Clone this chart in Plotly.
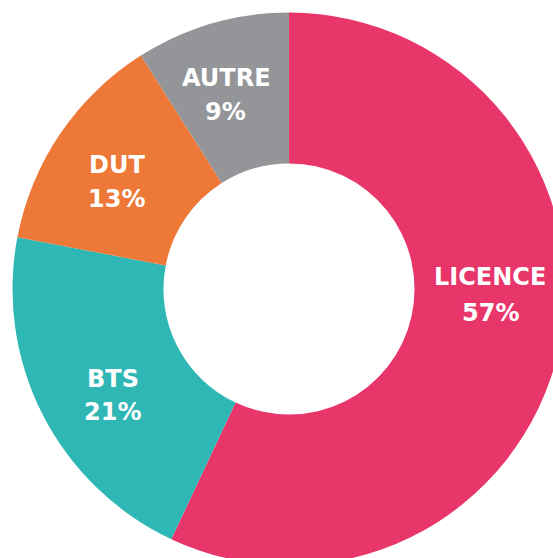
import plotly.graph_objects as go

# ---- data ----
categories = ["LICENCE", "BTS", "DUT", "AUTRE"]
shares = [57, 21, 13, 9]
pct_labels = ["57%", "21%", "13%", "9%"]

# ---- style ----
colors = ["#E8356A", "#2FB7B5", "#EE7837", "#939598"]
W, H = 577, 577
CX, CY, R = 289.0, 289.0, 276.5          # pie centre / radius in pixels
HOLE = 0.454

# label centres (pixels from top-left): name line, percent line
name_pos = [(490, 277), (113, 379), (117, 165), (226, 78)]
pct_pos = [(490, 313), (112, 412), (116.5, 199), (225.5, 112)]

fig = go.Figure(
    go.Pie(
        labels=categories,
        values=shares,
        sort=False,
        direction="clockwise",
        rotation=0,
        hole=HOLE,
        marker=dict(colors=colors, line=dict(width=0)),
        textinfo="none",
        hoverinfo="label+percent",
        showlegend=False,
        domain=dict(
            x=[(CX - R) / W, (CX + R) / W],
            y=[(H - CY - R) / H, (H - CY + R) / H],
        ),
    )
)

font = dict(family="DejaVu Sans", size=24, color="white", weight="bold")
for name, pct, (nx, ny), (px, py) in zip(categories, pct_labels, name_pos, pct_pos):
    fig.add_annotation(x=nx / W, y=1 - ny / H, xref="paper", yref="paper",
                       text=name, showarrow=False, font=font,
                       xanchor="center", yanchor="middle")
    fig.add_annotation(x=px / W, y=1 - py / H, xref="paper", yref="paper",
                       text=pct, showarrow=False, font=font,
                       xanchor="center", yanchor="middle")

fig.update_layout(
    width=W, height=H,
    margin=dict(l=0, r=0, t=0, b=0),
    paper_bgcolor="white",
    plot_bgcolor="white",
    showlegend=False,
)

fig.write_html(
    "out.html",
    config={"displayModeBar": False},
    post_script="document.documentElement.style.overflow='hidden';"
                "document.body.style.margin='0';"
                "document.body.style.overflow='hidden';",
)
